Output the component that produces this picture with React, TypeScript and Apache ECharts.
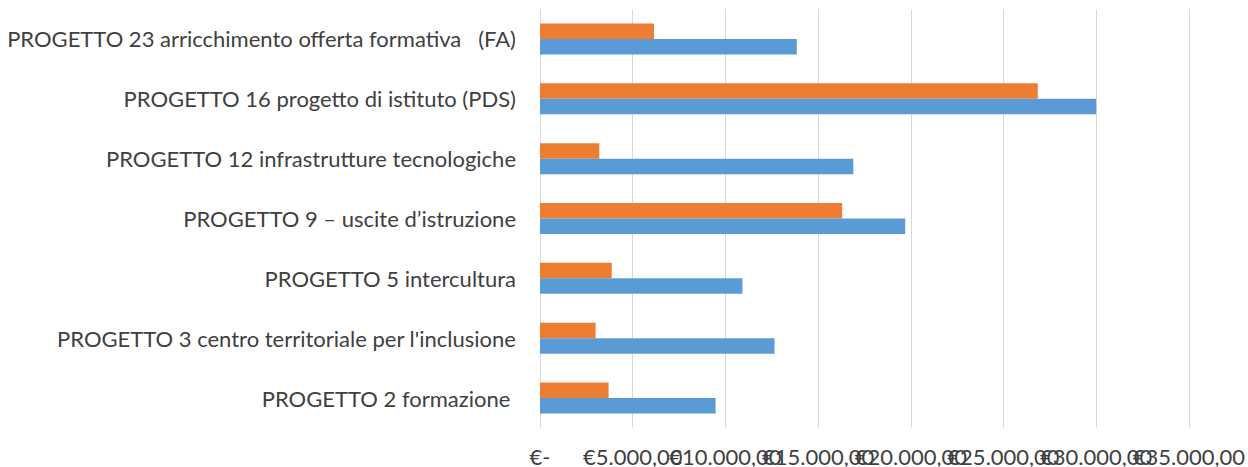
import React, { useEffect, useRef } from "react";
import * as echarts from "echarts";

const categories = [
  "PROGETTO 2 formazione ",
  "PROGETTO 3 centro territoriale per l'inclusione",
  "PROGETTO 5 intercultura",
  "PROGETTO 9 – uscite d’istruzione",
  "PROGETTO 12 infrastrutture tecnologiche",
  "PROGETTO 16 progetto di istituto (PDS)",
  "PROGETTO 23 arricchimento offerta formativa   (FA)",
];

const blueValues = [9470, 12650, 10920, 19700, 16900, 30000, 13850];
const orangeValues = [3700, 3000, 3870, 16300, 3200, 26850, 6150];

const xMin = 0;
const xMax = 35000;
const xInterval = 5000;
// tick whose label is drawn by the second axis so that ECharts keeps every label
const secondAxisTick = 30000;

function formatEuro(v: number): string {
  if (v === 0) return "€-";
  const int = Math.round(v).toString().replace(/\B(?=(\d{3})+(?!\d))/g, ".");
  return "€" + int + ",00";
}

export default function App() {
  const ref = useRef<HTMLDivElement>(null);
  useEffect(() => {
    if (!ref.current) return;
    const chart = echarts.init(ref.current, undefined, { renderer: "svg" });
    const font = "Lato";
    const labelBase = {
      color: "#404040",
      fontFamily: font,
      fontSize: 22,
      margin: 17,
      showMinLabel: true,
      showMaxLabel: true,
      hideOverlap: false,
    };
    chart.setOption({
      animation: false,
      backgroundColor: "#ffffff",
      grid: { left: 540, right: 58, top: 9, bottom: 39, containLabel: false },
      xAxis: [
        {
          type: "value",
          position: "bottom",
          min: xMin,
          max: xMax,
          interval: xInterval,
          axisLine: { show: false },
          axisTick: { show: false },
          splitLine: { show: true, lineStyle: { color: "#D9D9D9", width: 1 } },
          axisLabel: {
            ...labelBase,
            formatter: (v: number) => (v === secondAxisTick ? "" : formatEuro(v)),
          },
        },
        {
          type: "value",
          position: "bottom",
          offset: 0,
          min: xMin,
          max: xMax,
          interval: xInterval,
          axisLine: { show: false },
          axisTick: { show: false },
          splitLine: { show: false },
          axisLabel: {
            ...labelBase,
            formatter: (v: number) => (v === secondAxisTick ? formatEuro(v) : ""),
          },
        },
      ],
      yAxis: {
        type: "category",
        data: categories,
        axisLine: { show: false },
        axisTick: { show: false },
        splitLine: { show: false },
        axisLabel: {
          color: "#404040",
          fontFamily: font,
          fontSize: 22,
          margin: 24,
        },
      },
      series: [
        {
          type: "bar",
          xAxisIndex: 0,
          data: orangeValues,
          barWidth: 15.5,
          barGap: "0%",
          itemStyle: { color: "#ED7D31" },
        },
        {
          type: "bar",
          xAxisIndex: 0,
          data: blueValues,
          barWidth: 15.5,
          barGap: "0%",
          itemStyle: { color: "#5B9BD5" },
        },
      ],
    });
    return () => chart.dispose();
  }, []);
  return (
    <div
      ref={ref}
      style={{ position: "fixed", left: 0, top: 0, width: 1248, height: 467 }}
    />
  );
}
